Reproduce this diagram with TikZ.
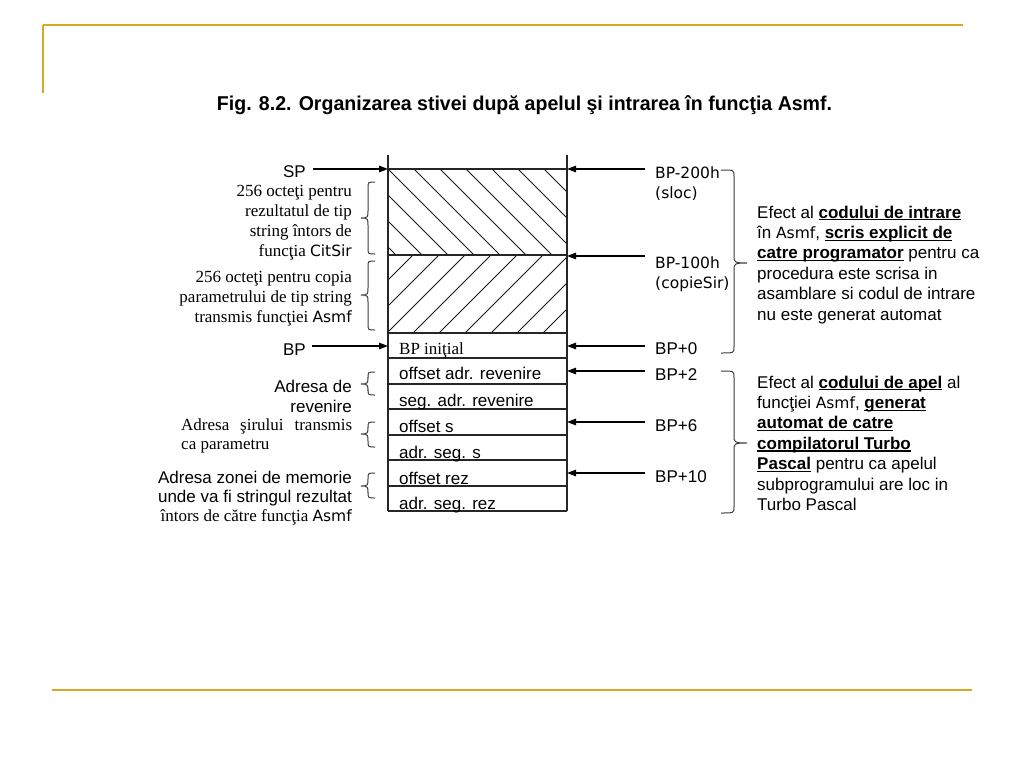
\documentclass[tikz,border=0pt]{standalone}
\usepackage{fontspec}
\usepackage{graphicx}
\setmainfont{Liberation Serif}
\newfontfamily\arial{Liberation Sans}
\newfontfamily\tah{DejaVu Sans}
\usetikzlibrary{arrows.meta}
\definecolor{gold}{RGB}{218,168,36}
\definecolor{brc}{RGB}{60,60,60}
\newcommand\ulb[1]{\setbox0\hbox{\bfseries #1}\rlap{\rule[-2.3pt]{\wd0}{1.2pt}}\box0\relax}
\newcommand\tf[1]{{\tah\fontsize{15.5}{18}\selectfont #1}}
\newcommand\rblock[1]{\vtop{\halign{\hfil##\cr#1\crcr}}}
\newcommand\lblock[1]{\vtop{\halign{##\hfil\cr#1\crcr}}}
\newcommand\bracel[6]{\draw[brace] (#3,#4) .. controls (#2,#4) .. (#2,#4+6) -- (#2,#5-7) .. controls (#2,#5-1) and (#2,#5) .. (#1,#5) .. controls (#2,#5) and (#2,#5+1) .. (#2,#5+7) -- (#2,#6-6) .. controls (#2,#6) .. (#3,#6);}
\tikzset{
  arr/.style={line width=1.2pt, -{Triangle[length=9pt,width=6.5pt]}},
  boxline/.style={line width=1.2pt, draw=black!85},
  hatch/.style={line width=0.8pt, draw=black!90},
  brace/.style={line width=1pt, draw=brc},
  goldline/.style={line width=2pt, draw=gold},
  sans/.style={font=\arial\fontsize{17}{20.3}\selectfont, inner sep=0pt},
  serif/.style={font=\fontsize{17}{20.3}\selectfont, inner sep=0pt},
  tahs/.style={font=\tah\fontsize{15.5}{20.5}\selectfont, inner sep=0pt},
}
\begin{document}
\begin{tikzpicture}[x=1pt,y=-1pt]
\useasboundingbox[fill=white] (0,0) rectangle (1024,768);
% gold frame lines
\draw[goldline] (42.5,25.5) -- (963,25.5);
\draw[goldline] (42.5,25.5) -- (42.5,93);
\draw[goldline] (52,690) -- (972,690);
% title
\node[anchor=base, inner sep=0pt] (title) at (524.5,110) {\resizebox{615pt}{\height}{\arial\bfseries\fontsize{20}{22}\selectfont Fig. 8.2. Organizarea stivei după apelul şi intrarea în funcţia Asmf.}};
% hatching
\begin{scope}
\clip (388,169) rectangle (567,255);
\foreach \k in {-3,...,6} \draw[hatch] ({388+26*\k},169) -- ++(120,120);
\end{scope}
\begin{scope}
\clip (388,255) rectangle (567,333);
\foreach \k in {0,...,8} \draw[hatch] ({413+26*\k+100},155) -- ({413+26*\k-100},355);
\end{scope}
% stack box
\coordinate (boxTL) at (388,155);
\coordinate (boxBL) at (388,511);
\coordinate (boxTR) at (567,155);
\coordinate (boxBR) at (567,511);
\draw[boxline] (boxTL) -- (boxBL);
\draw[boxline] (boxTR) -- (boxBR);
\foreach \yy in {169,255,333,358,384,409,435,460,486,511} \draw[boxline] (388,\yy) -- (567,\yy);
% row labels
\node[serif, anchor=base west] (r1) at (399,354) {BP iniţial};
\node[sans, anchor=base west] (r2) at (399,379) {offset adr. revenire};
\node[sans, anchor=base west] (r3) at (399,406) {seg. adr. revenire};
\node[sans, anchor=base west] (r4) at (399,432) {offset s};
\node[sans, anchor=base west] (r5) at (399,458) {adr. seg. s};
\node[sans, anchor=base west] (r6) at (399,484) {offset rez};
\node[sans, anchor=base west] (r7) at (399,509) {adr. seg. rez};
% left labels and arrows
\node[sans, anchor=base east] (sp) at (306,177) {SP};
\node[sans, anchor=base east] (bp) at (306,355) {BP};
\coordinate (spS) at (313,169);
\coordinate (spE) at (388,169);
\coordinate (bpS) at (312,346);
\coordinate (bpE) at (388,346);
\draw[arr] (spS) -- (spE);
\draw[arr] (bpS) -- (bpE);
% right labels and arrows
\node[tahs, anchor=base west] (a1) at (655,178) {\lblock{BP-200h\cr (sloc)}};
\node[tahs, anchor=base west] (a2) at (655,268) {\lblock{BP-100h\cr (copieSir)}};
\node[sans, anchor=base west] (a3) at (655,354) {BP+0};
\node[sans, anchor=base west] (a4) at (655,380) {BP+2};
\node[sans, anchor=base west] (a5) at (655,431) {BP+6};
\node[sans, anchor=base west] (a6) at (655,482) {BP+10};
\foreach \yy [count=\i] in {169,256,346,371,422,473} {
  \coordinate (rs\i) at (645,\yy);
  \coordinate (re\i) at (567,\yy);
  \draw[arr] (rs\i) -- (re\i);
}
% left text blocks
\node[serif, anchor=base east] (t1) at (352,196) {\rblock{256 octeţi pentru\cr rezultatul de tip\cr string întors de\cr funcţia \tf{CitSir}}};
\node[serif, anchor=base east] (t2) at (352,282) {\rblock{256 octeţi pentru copia\cr parametrului de tip string\cr transmis funcţiei \tf{Asmf}}};
\node[sans, anchor=base east] (t3) at (352,392) {\rblock{Adresa de\cr revenire}};
\node[serif, anchor=base west] (t4) at (181,430) {\baselineskip=19.5pt\lblock{\makebox[171pt][s]{Adresa şirului transmis}\cr ca parametru}};
\node[sans, anchor=base east] (t5) at (352,483) {\baselineskip=19.2pt\rblock{Adresa zonei de memorie\cr unde va fi stringul rezultat\cr {\rmfamily întors de către funcţia \tf{Asmf}}}};
% left braces
\bracel{361}{368}{375}{182}{218}{254}
\bracel{361}{368}{375}{261}{295}{330}
\bracel{361}{368}{375}{372}{384}{395}
\bracel{361}{368}{375}{422}{434}{447}
\bracel{361}{368}{375}{473}{486}{498}
% right braces
\bracel{747}{734}{721}{170}{263}{353}
\bracel{747}{734}{721}{371}{443}{513}
% right text blocks
\node[sans, anchor=base west] (e1) at (757,218) {\baselineskip=20.4pt\lblock{Efect al \ulb{codului de intrare}\cr în \tf{Asmf}, \ulb{scris explicit de}\cr \ulb{catre programator} pentru ca\cr procedura este scrisa in\cr asamblare si codul de intrare\cr nu este generat automat}};
\node[sans, anchor=base west] (e2) at (757,388) {\baselineskip=20.4pt\lblock{Efect al \ulb{codului de apel} al\cr funcţiei \tf{Asmf}, \ulb{generat}\cr \ulb{automat de catre}\cr \ulb{compilatorul Turbo}\cr \ulb{Pascal} pentru ca apelul\cr subprogramului are loc in\cr Turbo Pascal}};
\end{tikzpicture}
\end{document}
